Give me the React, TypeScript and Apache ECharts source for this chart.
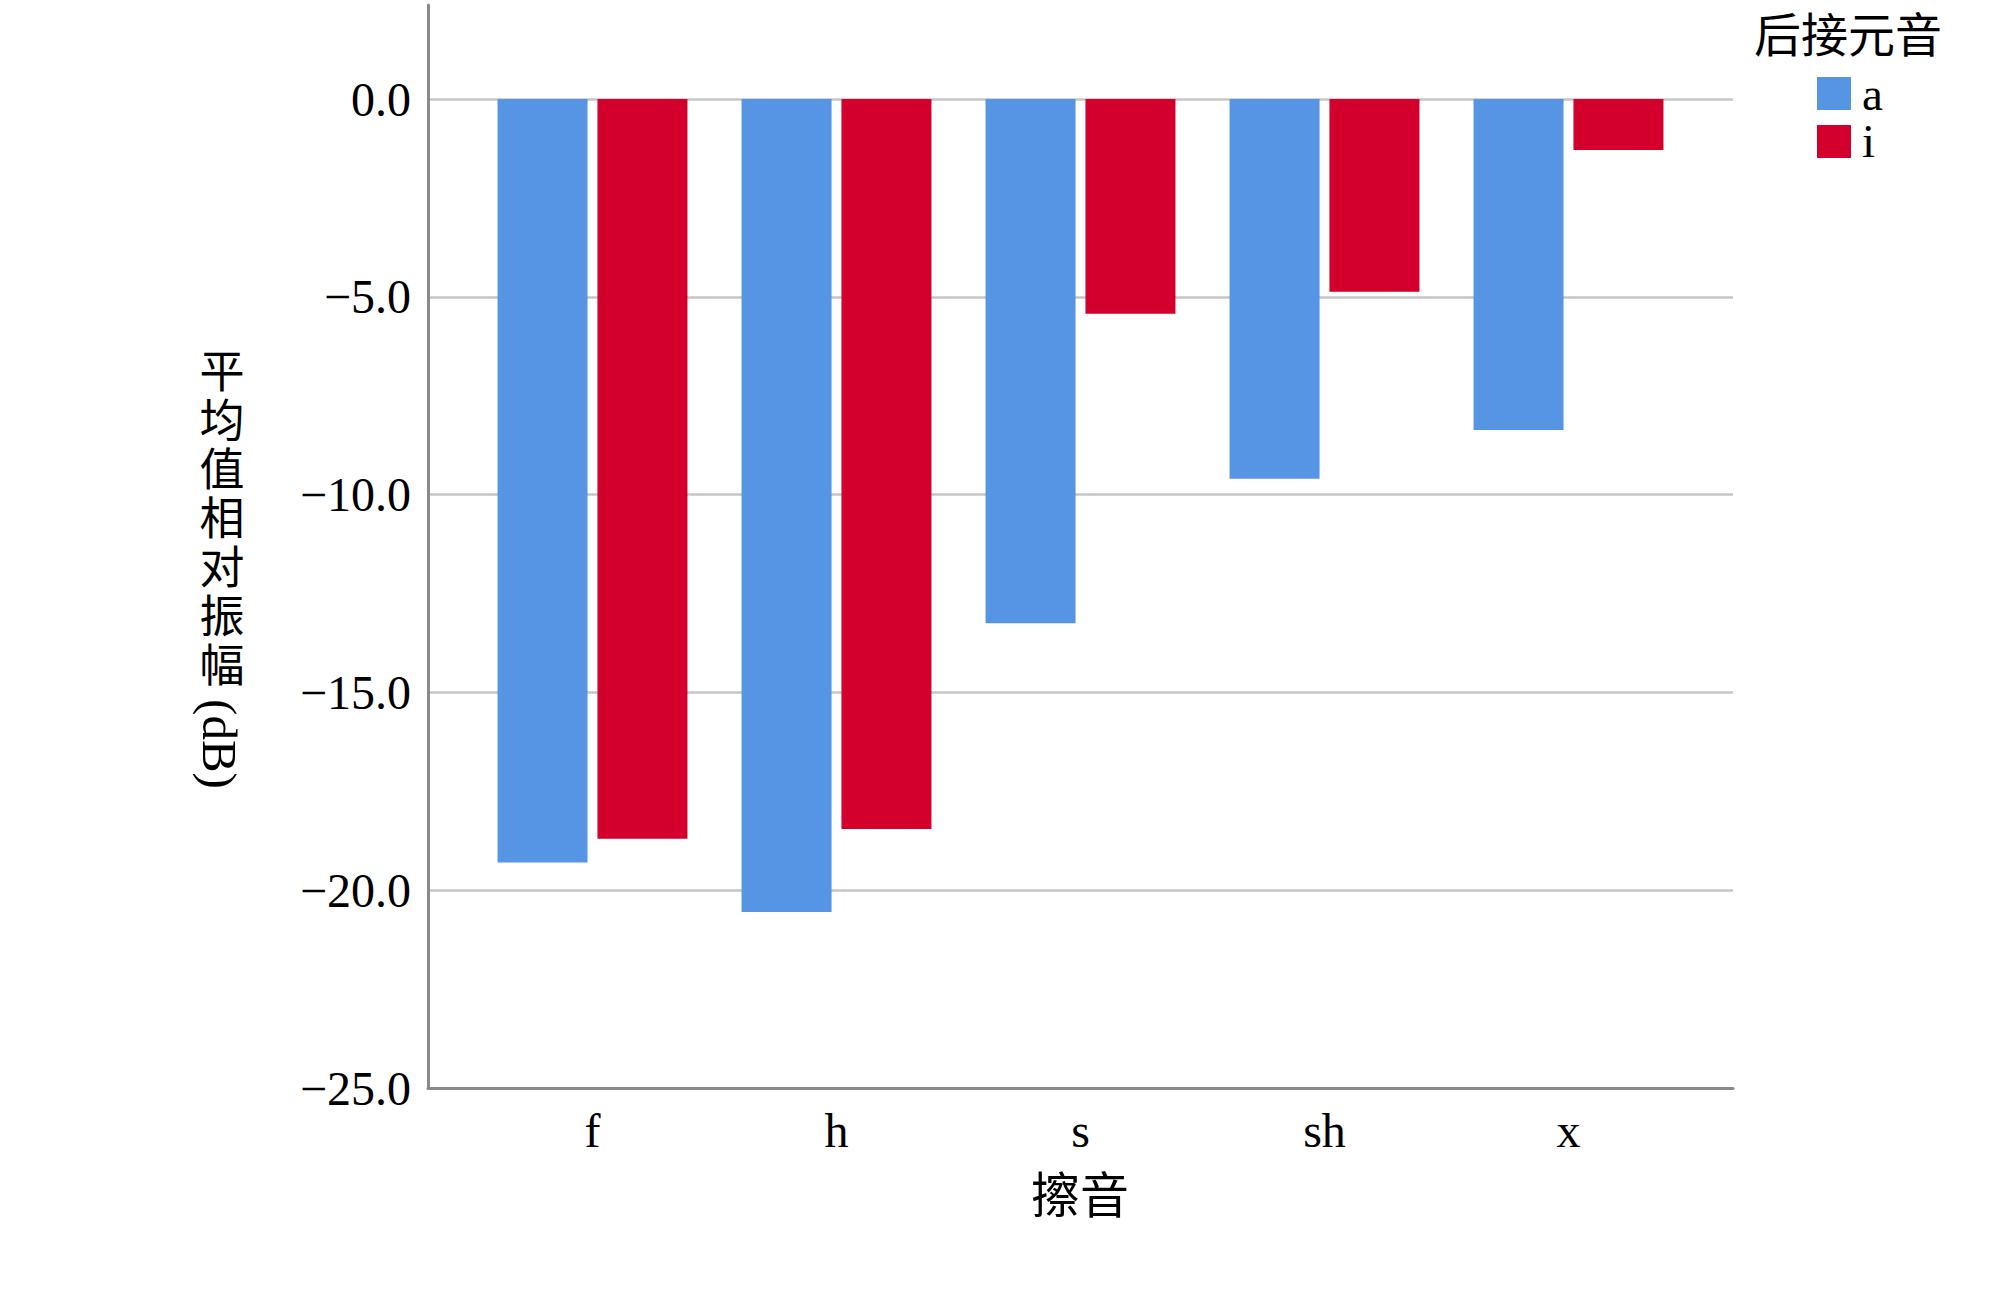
import React, { useEffect, useRef } from "react";
import * as echarts from "echarts";

const categories = ["f", "h", "s", "sh", "x"];
const seriesA = [-19.3, -20.55, -13.25, -9.6, -8.37];
const seriesI = [-18.7, -18.45, -5.43, -4.87, -1.29];
const seriesNames = ["a", "i"];
const yTicks = [0, -5, -10, -15, -20, -25];
const xTitle = "擦音";
const yTitleCJK = "平均值相对振幅";
const yTitleUnit = "(dB)";
const legendTitle = "后接元音";

const SERIF = "'Liberation Serif', 'Noto Sans CJK SC', serif";
const BLUE = "#5595E3";
const RED = "#D3002E";
const AXIS = "#8A8A8A";
const GRID = "#C6C6C6";

export default function App() {
  const ref = useRef<HTMLDivElement>(null);
  useEffect(() => {
    if (!ref.current) return;
    const chart = echarts.init(ref.current, null, { renderer: "svg" });
    const fmt = (v: number) =>
      yTicks.includes(v) ? (v === 0 ? "0.0" : "\u2212" + Math.abs(v).toFixed(1)) : "";
    const cjkChars = yTitleCJK.split("").map((ch, k) => ({
      type: "text",
      x: 222,
      y: 350 + k * 49,
      style: {
        text: ch, fill: "#000", fontSize: 45, fontFamily: SERIF,
        align: "center", verticalAlign: "top",
      },
    }));
    chart.setOption({
      animation: false,
      backgroundColor: "#ffffff",
      grid: [
        { left: 428, right: 267, top: 5, height: 1083 },
        { left: 428, right: 267, top: 99, height: 989 },
        { left: 470.5, width: 1220, top: 99, height: 989 },
      ],
      xAxis: [
        {
          gridIndex: 0, type: "value", min: 0, max: 1,
          axisLine: { show: true, onZero: false, lineStyle: { color: AXIS, width: 3 } },
          axisTick: { show: false }, axisLabel: { show: false }, splitLine: { show: false },
        },
        { gridIndex: 1, type: "value", min: 0, max: 1, show: false },
        {
          gridIndex: 2, type: "category", data: categories,
          axisLine: { show: false }, axisTick: { show: false },
          axisLabel: { color: "#000", fontSize: 48, fontFamily: SERIF, margin: 18 },
        },
      ],
      yAxis: [
        {
          gridIndex: 0, type: "value", min: -25, max: 2.4,
          axisLine: { show: true, lineStyle: { color: AXIS, width: 3 } },
          axisTick: { show: false }, axisLabel: { show: false }, splitLine: { show: false },
        },
        {
          gridIndex: 1, type: "value", min: -25, max: 0, interval: 5,
          axisLine: { show: false }, axisTick: { show: false },
          axisLabel: { color: "#000", fontSize: 48, fontFamily: SERIF, margin: 17, formatter: fmt },
          splitLine: { show: true, lineStyle: { color: GRID, width: 2.5 } },
        },
        {
          gridIndex: 2, type: "value", min: -25, max: 0, show: false, splitLine: { show: false },
        },
      ],
      legend: {
        orient: "vertical",
        left: 1817,
        top: 70,
        padding: 0,
        itemWidth: 34,
        itemHeight: 33,
        itemGap: 1,
        icon: "rect",
        data: seriesNames,
        textStyle: {
          color: "#000", fontSize: 47, lineHeight: 33, fontFamily: SERIF, padding: [0, 0, 0, 6],
        },
      },
      series: [
        {
          name: seriesNames[0], type: "bar", xAxisIndex: 2, yAxisIndex: 2,
          data: seriesA, barWidth: 90, barGap: "11%",
          itemStyle: { color: BLUE },
        },
        {
          name: seriesNames[1], type: "bar", xAxisIndex: 2, yAxisIndex: 2,
          data: seriesI, barWidth: 90, barGap: "11%",
          itemStyle: { color: RED },
        },
      ],
      graphic: [
        {
          type: "text", x: 1848, y: 36,
          style: {
            text: legendTitle, fill: "#000", fontSize: 47, fontFamily: SERIF,
            align: "center", verticalAlign: "middle",
          },
        },
        {
          type: "text", x: 1080, y: 1196,
          style: {
            text: xTitle, fill: "#000", fontSize: 49, fontFamily: SERIF,
            align: "center", verticalAlign: "middle",
          },
        },
        ...cjkChars,
        {
          type: "text", x: 219, y: 744, rotation: -Math.PI / 2,
          style: {
            text: yTitleUnit, fill: "#000", fontSize: 49, fontFamily: SERIF,
            align: "center", verticalAlign: "middle",
          },
        },
      ],
    });
    return () => chart.dispose();
  }, []);
  return (
    <div
      ref={ref}
      style={{ position: "fixed", left: 0, top: 0, width: 2000, height: 1290, background: "#fff" }}
    />
  );
}
